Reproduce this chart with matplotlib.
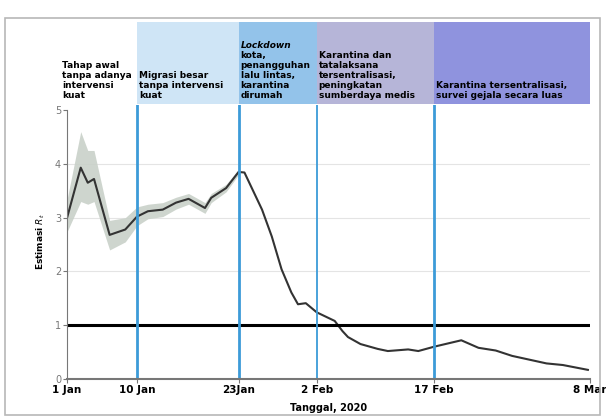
import matplotlib.pyplot as plt
import numpy as np
from matplotlib.patches import Rectangle

# days since 1 Jan 2020
days = [0, 1.8, 2.7, 3.5, 5.5, 7.5, 9, 10.4, 12.3, 14.0, 15.6, 17.7, 18.5, 20.4, 22,
        22.75, 25, 26.25, 27.5, 28.75, 29.6, 30.6, 32, 34.3, 35.3, 36, 37.6, 39.8,
        41.1, 43.7, 45, 47, 50.5, 52.7, 54.9, 57, 59.2, 61.4, 63.5, 66.7]
rt = [2.97, 3.93, 3.65, 3.72, 2.68, 2.78, 3.02, 3.12, 3.15, 3.28, 3.35, 3.18, 3.37, 3.55, 3.85,
      3.84, 3.15, 2.65, 2.04, 1.61, 1.39, 1.41, 1.24, 1.08, 0.89, 0.78, 0.65, 0.56,
      0.52, 0.55, 0.52, 0.6, 0.72, 0.58, 0.53, 0.43, 0.36, 0.29, 0.26, 0.17]

band_days = [0, 1.8, 2.7, 3.5, 5.5, 7.5, 9, 10.4, 12.3, 14.0, 15.6, 17.7, 18.5, 20.4, 22]
band_low = [2.72, 3.3, 3.25, 3.3, 2.4, 2.55, 2.85, 2.98, 3.02, 3.16, 3.25, 3.08, 3.28, 3.48, 3.8]
band_high = [3.3, 4.6, 4.25, 4.25, 2.95, 3.0, 3.2, 3.25, 3.28, 3.38, 3.45, 3.28, 3.45, 3.62, 3.9]

tick_days = [0, 9, 22, 32, 47, 67]
tick_labels = ['1 Jan', '10 Jan', '23Jan', '2 Feb', '17 Feb', '8 Mar']
event_days = [9, 22, 32, 47]

phase_edges = [0, 9, 22, 32, 47, 67]
phase_colors = ['white', '#cfe5f6', '#93c3ea', '#b6b5d8', '#8f93de']
phase_texts = ['Tahap awal\ntanpa adanya\nintervensi\nkuat',
               'Migrasi besar\ntanpa intervensi\nkuat',
               'kota,\npenangguhan\nlalu lintas,\nkarantina\ndirumah',
               'Karantina dan\ntatalaksana\ntersentralisasi,\npeningkatan\nsumberdaya medis',
               'Karantina tersentralisasi,\nsurvei gejala secara luas']

fig = plt.figure(figsize=(6.06, 4.2), dpi=100)
fig.patches.append(Rectangle((0.008, 0.012), 0.982, 0.945, transform=fig.transFigure,
                             fill=False, edgecolor='#b8b8b8', linewidth=1.2))

ax = fig.add_axes([0.110, 0.0976, 0.864, 0.653])
axh = fig.add_axes([0.110, 0.752, 0.864, 0.196])

# header phase boxes
for i in range(len(phase_colors)):
    axh.axvspan(phase_edges[i], phase_edges[i + 1], color=phase_colors[i], lw=0)
for i, t in enumerate(phase_texts):
    x0 = phase_edges[i] + 0.25 if i > 0 else -0.6
    txt = axh.text(x0, 0.05, t, fontsize=6.5, fontweight='bold', va='bottom', ha='left',
                   linespacing=1.15, clip_on=False)
    if i == 2:
        axh.annotate('Lockdown', xy=(0, 1), xycoords=txt, xytext=(0, 0.5),
                     textcoords='offset points', fontsize=6.5, fontweight='bold',
                     style='italic', va='bottom', ha='left')
axh.set_xlim(0, 67)
axh.set_ylim(0, 1)
axh.axis('off')

# main panel
ax.fill_between(band_days, band_low, band_high, color='#c9d1c9', alpha=0.9, lw=0)
ax.plot(days, rt, color='#333333', lw=1.5)
ax.axhline(1, color='black', lw=2.2)
for d in event_days:
    ax.axvline(d, color='#3c9bd8', lw=2 if d != 32 else 1.3)

ax.set_xlim(0, 67)
ax.set_ylim(0, 5.1)
ax.set_yticks([0, 1, 2, 3, 4, 5])
ax.set_xticks(tick_days, tick_labels)
for y in [2, 3, 4]:
    ax.axhline(y, color='#e4e4e4', lw=0.8, zorder=0)

for s in ['top', 'right']:
    ax.spines[s].set_visible(False)
ax.spines['left'].set_bounds(0, 5)
ax.spines['left'].set_color('#777777')
ax.spines['bottom'].set_color('#777777')
ax.spines['bottom'].set_linewidth(1.5)
ax.tick_params(axis='y', labelsize=7, colors='#777777', length=3, pad=1)
ax.tick_params(axis='x', labelsize=7.5, length=3, pad=1, color='#777777')
for lab in ax.get_xticklabels():
    lab.set_fontweight('bold')

ax.set_ylabel('Estimasi $R_t$', fontsize=6.5, fontweight='bold', labelpad=6)
ax.set_xlabel('Tanggal, 2020', fontsize=7, fontweight='bold', labelpad=6)

plt.savefig('out.png', dpi=100)
